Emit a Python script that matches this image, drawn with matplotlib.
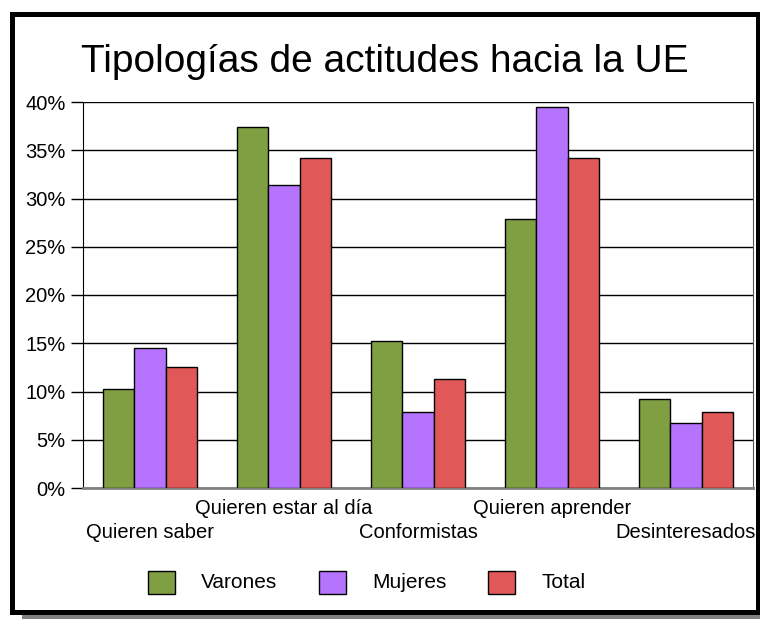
import matplotlib.pyplot as plt
from matplotlib.patches import Rectangle
import numpy as np

plt.rcParams['font.family'] = ['Liberation Sans', 'DejaVu Sans']

# Data
categories = ["Quieren saber", "Quieren estar al día", "Conformistas",
              "Quieren aprender", "Desinteresados"]
varones = [10.3, 37.4, 15.2, 27.9, 9.2]
mujeres = [14.5, 31.4, 7.9, 39.5, 6.7]
total = [12.5, 34.2, 11.3, 34.2, 7.9]
series_names = ["Varones", "Mujeres", "Total"]
colors = ["#7f9f42", "#b674fe", "#e05858"]
yticks = [0, 5, 10, 15, 20, 25, 30, 35, 40]

W, H = 760, 619
fig = plt.figure(figsize=(W / 100, H / 100), dpi=100)

# frame with shadow (pixel coords -> figure coords)
def px(x, y):
    return x / W, 1 - y / H

sx, sy = px(22, 619)
fig.patches.append(Rectangle((sx, sy), (760 - 22) / W, 5 / H, transform=fig.transFigure,
                             facecolor="#808080", edgecolor="none", zorder=0))
fx, fy = px(11.5, 611.5)
fig.patches.append(Rectangle((fx, fy), (757.5 - 11.5) / W, (611.5 - 13.5) / H,
                             transform=fig.transFigure, facecolor="white",
                             edgecolor="black", linewidth=3.6, zorder=1))

# axes area
ax = fig.add_axes([83 / W, (H - 488) / H, 670 / W, 386 / H])
ax.set_zorder(2)
ax.patch.set_alpha(0)

x = np.arange(len(categories))
bw = 0.234
for i, (vals, c, name) in enumerate(zip([varones, mujeres, total], colors, series_names)):
    ax.bar(x + (i - 1) * bw, vals, width=bw, color=c, edgecolor="black",
           linewidth=1.0, label=name, zorder=3)

ax.set_xlim(-0.5, len(categories) - 0.5)
ax.set_ylim(0, 40)
ax.set_yticks(yticks)
ax.set_yticklabels([f"{t}%" for t in yticks], fontsize=14.5)
ax.tick_params(axis='y', length=8.6, width=1, color="black", pad=4)
ax.yaxis.grid(True, color="black", linewidth=1.0, zorder=0)
ax.set_axisbelow(True)
ax.set_xticks([])

ax.spines["top"].set_visible(False)
ax.spines["left"].set_color("black")
ax.spines["right"].set_color("#555555")
ax.spines["bottom"].set_color("#808080")
ax.spines["bottom"].set_linewidth(2)

# staggered category labels
for i, cat in enumerate(categories):
    ypix = 508 if i % 2 == 1 else 533
    fig.text((83 + 134 * i + 67) / W, 1 - ypix / H, cat, ha="center", va="center",
             fontsize=14.5)

# title
fig.text(385 / W, 1 - 62 / H, "Tipologías de actitudes hacia la UE", ha="center",
         va="center", fontsize=28)

# legend
leg_x = [148, 319, 488]
for lx, c, name in zip(leg_x, colors, series_names):
    fig.patches.append(Rectangle((lx / W, 1 - 594 / H), 27 / W, 23 / H,
                                 transform=fig.transFigure, facecolor=c,
                                 edgecolor="black", linewidth=1.0, zorder=3))
    fig.text((lx + 53) / W, 1 - 583 / H, name, ha="left", va="center", fontsize=15)

fig.savefig("out.png", dpi=100)
